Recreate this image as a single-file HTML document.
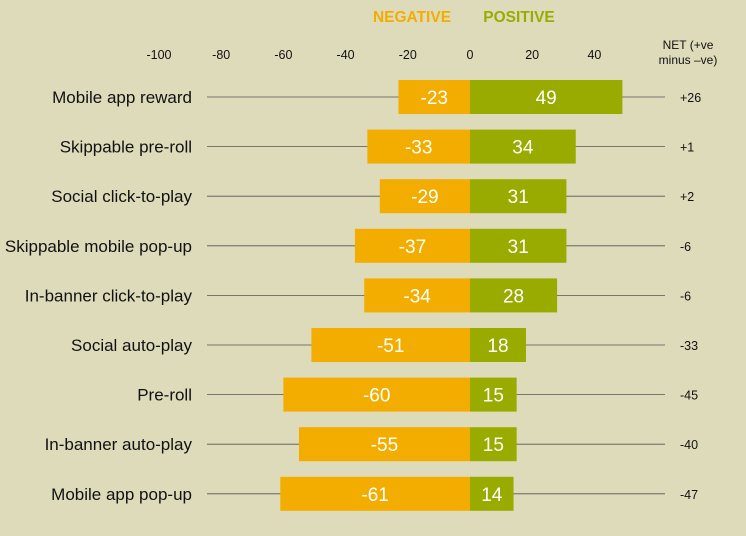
<!DOCTYPE html>
<html><head><meta charset="utf-8"><style>
body{margin:0;background:#dedbbb;font-family:"Liberation Sans",sans-serif}
svg{display:block}
</style></head><body>
<svg id="c" width="746" height="536">
<rect width="746" height="536" fill="#dedbbb"/>
<text x="412" y="22" font-size="15.5" font-weight="bold" fill="#f2ad00" text-anchor="middle">NEGATIVE</text>
<text x="519" y="22" font-size="15.5" font-weight="bold" fill="#9aab00" text-anchor="middle">POSITIVE</text>
<text x="688" y="49" font-size="12" fill="#111" text-anchor="middle">NET (+ve</text>
<text x="688" y="64" font-size="12" fill="#111" text-anchor="middle">minus –ve)</text>
</svg>
<script>
const categories=["Mobile app reward","Skippable pre-roll","Social click-to-play","Skippable mobile pop-up","In-banner click-to-play","Social auto-play","Pre-roll","In-banner auto-play","Mobile app pop-up"];
const negative=[-23,-33,-29,-37,-34,-51,-60,-55,-61];
const positive=[49,34,31,31,28,18,15,15,14];
const net=["+26","+1","+2","-6","-6","-33","-45","-40","-47"];
const ticks=[-100,-80,-60,-40,-20,0,20,40];
const svg=document.getElementById('c');
const NS="http://www.w3.org/2000/svg";
const x=v=>470+v*3.11;
const y=i=>97+i*49.6;
function mk(t,a,txt){const e=document.createElementNS(NS,t);for(const k in a)e.setAttribute(k,a[k]);if(txt!==undefined)e.textContent=txt;svg.appendChild(e);return e;}
ticks.forEach(t=>{const e=mk('text',{x:x(t),y:59,'font-size':12.5,fill:'#111','text-anchor':'middle'},t);

});
categories.forEach((c,i)=>{const cy=y(i);
const l=mk('line',{x1:207,x2:665,y1:cy,y2:cy,stroke:'#555','stroke-width':0.8});


const lb=mk('text',{x:192,y:cy+6,'font-size':17,fill:'#111','text-anchor':'end'},c);


const n=mk('rect',{x:x(negative[i]),y:cy-17,width:x(0)-x(negative[i]),height:34,fill:'#f2ad00'});


const p=mk('rect',{x:x(0),y:cy-17,width:x(positive[i])-x(0),height:34,fill:'#9aab00'});


const nt=mk('text',{x:(x(negative[i])+x(0))/2,y:cy+7,'font-size':19,fill:'#fff','text-anchor':'middle'},negative[i]);


const pt=mk('text',{x:(x(positive[i])+x(0))/2,y:cy+7,'font-size':19,fill:'#fff','text-anchor':'middle'},positive[i]);


const nv=mk('text',{x:680,y:cy+5,'font-size':12.5,fill:'#111'},net[i]);


});
</script>
</body></html>
